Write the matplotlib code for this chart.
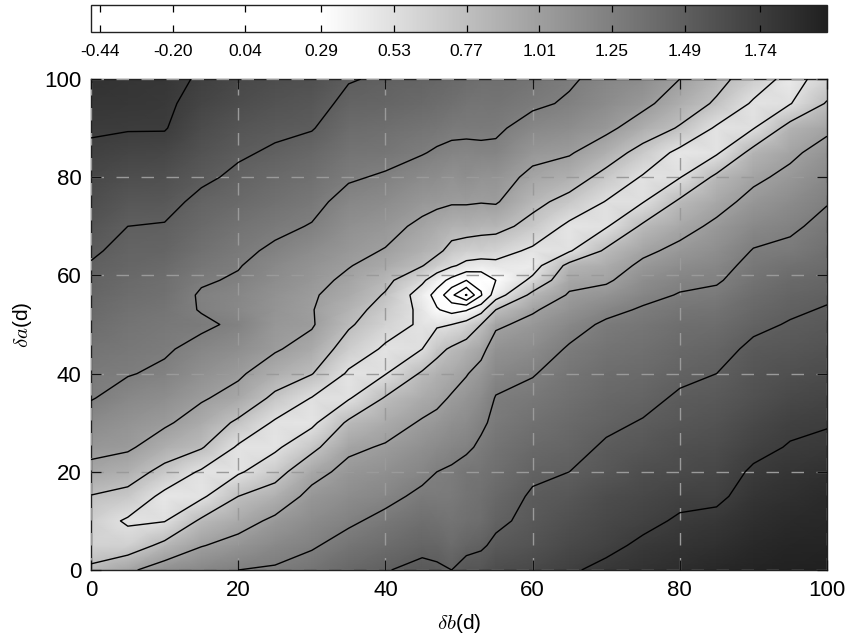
import numpy as np
import matplotlib
matplotlib.use("Agg")
import matplotlib.pyplot as plt
from matplotlib.colors import LinearSegmentedColormap

plt.rcParams['font.family'] = ['Liberation Sans', 'DejaVu Sans']
plt.rcParams['mathtext.fontset'] = 'cm'

x_nodes = [0, 5, 10, 15, 20, 25, 30, 35, 40, 45, 47, 49, 51, 53, 55, 60, 65, 70, 75, 80, 85, 90, 95, 100]
y_nodes = [0, 5, 10, 15, 20, 25, 30, 35, 40, 45, 50, 53, 56, 59, 62, 65, 70, 75, 80, 85, 90, 95, 100]

# estimated value, one list per column (bottom to top)
z00 = [.82, .62, .65, .76, .95, 1.07, 1.16, 1.26, 1.29, 1.33, 1.38, 1.41, 1.43, 1.46, 1.48, 1.51, 1.56, 1.61, 1.66, 1.71, 1.76, 1.79, 1.82]
z05 = [.97, .64, .50, .70, .88, 1.04, 1.10, 1.18, 1.26, 1.30, 1.33, 1.35, 1.38, 1.40, 1.43, 1.45, 1.49, 1.55, 1.61, 1.68, 1.75, 1.78, 1.80]
z10 = [1.12, .83, .52, .47, .70, .90, 1.04, 1.13, 1.22, 1.27, 1.30, 1.32, 1.35, 1.37, 1.40, 1.44, 1.48, 1.54, 1.60, 1.67, 1.75, 1.77, 1.79]
z15 = [1.19, 1.00, .81, .49, .50, .79, .92, 1.03, 1.12, 1.20, 1.28, 1.24, 1.23, 1.27, 1.31, 1.35, 1.40, 1.45, 1.52, 1.58, 1.63, 1.68, 1.72]
z20 = [1.25, 1.08, .93, .77, .50, .50, .73, .94, 1.04, 1.13, 1.22, 1.18, 1.19, 1.23, 1.26, 1.29, 1.34, 1.40, 1.46, 1.51, 1.56, 1.62, 1.66]
z25 = [1.27, 1.17, 1.05, .88, .68, .49, .50, .72, .90, 1.03, 1.07, 1.09, 1.11, 1.14, 1.17, 1.22, 1.29, 1.35, 1.40, 1.47, 1.52, 1.58, 1.62]
z30 = [1.33, 1.23, 1.15, 1.07, .94, .71, .48, .52, .78, .93, 1.03, 1.02, 1.03, 1.07, 1.10, 1.14, 1.24, 1.30, 1.36, 1.42, 1.50, 1.55, 1.60]
z35 = [1.42, 1.32, 1.22, 1.14, 1.07, .97, .81, .51, .50, .66, .80, .86, .93, .97, 1.02, 1.06, 1.12, 1.19, 1.27, 1.33, 1.39, 1.45, 1.50]
z40 = [1.48, 1.38, 1.30, 1.20, 1.12, 1.03, .92, .79, .52, .50, .62, .68, .75, .83, .93, 1.00, 1.07, 1.15, 1.23, 1.31, 1.37, 1.43, 1.47]
z45 = [1.54, 1.44, 1.37, 1.29, 1.20, 1.12, 1.03, .92, .80, .53, .50, .48, .42, .57, .78, .87, .97, 1.07, 1.16, 1.26, 1.33, 1.40, 1.45]
z47 = [1.52, 1.43, 1.35, 1.28, 1.25, 1.16, 1.07, .96, .87, .71, .50, .31, .20, .40, .66, .82, .92, 1.05, 1.14, 1.23, 1.31, 1.38, 1.43]
z49 = [1.49, 1.39, 1.33, 1.29, 1.27, 1.20, 1.12, 1.03, .93, .80, .53, .21, -.15, .22, .56, .70, .87, 1.03, 1.11, 1.21, 1.29, 1.36, 1.41]
z51 = [1.56, 1.44, 1.36, 1.33, 1.32, 1.22, 1.15, 1.08, 1.00, .87, .62, .27, -.46, .04, .47, .65, .87, 1.03, 1.13, 1.20, 1.29, 1.33, 1.39]
z53 = [1.56, 1.47, 1.38, 1.36, 1.33, 1.28, 1.22, 1.15, 1.07, .96, .77, .45, .02, .10, .43, .65, .84, 1.02, 1.10, 1.21, 1.29, 1.32, 1.37]
z55 = [1.62, 1.52, 1.46, 1.41, 1.37, 1.33, 1.29, 1.26, 1.18, 1.10, .98, .77, .42, .29, .47, .62, .84, 1.03, 1.10, 1.21, 1.28, 1.33, 1.37]
z60 = [1.66, 1.58, 1.53, 1.51, 1.46, 1.40, 1.35, 1.30, 1.24, 1.15, 1.06, .99, .83, .58, .43, .49, .70, .83, .96, 1.07, 1.18, 1.28, 1.33]
z65 = [1.72, 1.65, 1.60, 1.55, 1.49, 1.44, 1.40, 1.36, 1.32, 1.27, 1.18, 1.10, 1.03, .95, .84, .51, .48, .70, .88, 1.03, 1.14, 1.23, 1.27]
z70 = [1.78, 1.70, 1.66, 1.62, 1.55, 1.51, 1.46, 1.42, 1.38, 1.33, 1.28, 1.20, 1.09, .98, .91, .81, .51, .52, .70, .88, 1.06, 1.15, 1.20]
z75 = [1.82, 1.77, 1.70, 1.66, 1.61, 1.55, 1.50, 1.45, 1.40, 1.36, 1.31, 1.27, 1.20, 1.13, 1.05, .97, .81, .52, .51, .69, .90, 1.06, 1.14]
z80 = [1.86, 1.81, 1.76, 1.70, 1.64, 1.60, 1.55, 1.51, 1.46, 1.41, 1.37, 1.32, 1.26, 1.21, 1.14, 1.06, .94, .81, .52, .47, .75, .90, 1.01]
z85 = [1.90, 1.84, 1.78, 1.71, 1.67, 1.62, 1.58, 1.53, 1.49, 1.44, 1.38, 1.34, 1.29, 1.23, 1.19, 1.13, 1.05, .94, .82, .50, .50, .74, .84]
z90 = [1.93, 1.89, 1.85, 1.80, 1.76, 1.70, 1.65, 1.59, 1.56, 1.52, 1.46, 1.42, 1.38, 1.34, 1.30, 1.26, 1.17, 1.07, .97, .85, .52, .50, .66]
z95 = [1.95, 1.92, 1.88, 1.84, 1.80, 1.75, 1.71, 1.65, 1.60, 1.55, 1.50, 1.47, 1.44, 1.40, 1.35, 1.29, 1.22, 1.15, 1.06, .97, .86, .52, .45]
z100 = [1.96, 1.93, 1.90, 1.87, 1.83, 1.77, 1.73, 1.68, 1.63, 1.58, 1.53, 1.50, 1.47, 1.43, 1.39, 1.36, 1.30, 1.24, 1.17, 1.09, .97, .79, .62]

columns = [z00, z05, z10, z15, z20, z25, z30, z35, z40, z45, z47, z49, z51, z53, z55,
           z60, z65, z70, z75, z80, z85, z90, z95, z100]

levels = [-0.44, -0.20, 0.04, 0.29, 0.53, 0.77, 1.01, 1.25, 1.49, 1.74]
level_labels = ['-0.44', '-0.20', '0.04', '0.29', '0.53', '0.77', '1.01', '1.25', '1.49', '1.74']
vmin, vmax = -0.47, 1.96
axis_ticks = [0, 20, 40, 60, 80, 100]

Z = np.array(columns).T
X, Y = np.meshgrid(x_nodes, y_nodes)

white_end = (0.29 - vmin) / (vmax - vmin)
cmap = LinearSegmentedColormap.from_list(
    'bar', [(0.0, '#ffffff'), (white_end, '#ffffff'), (1.0, '#202020')], N=512)

W, H = 847, 641
fig = plt.figure(figsize=(W / 100, H / 100), dpi=100)
ax = fig.add_axes([91 / W, 1 - 570 / H, 736 / W, 491 / H])
cax = fig.add_axes([91 / W, 1 - 32 / H, 736 / W, 27 / H])

mesh = ax.pcolormesh(X, Y, Z, cmap=cmap, vmin=vmin, vmax=vmax, shading='gouraud', zorder=1)
ax.grid(True, color='#9a9a9a', lw=1.0, dashes=(9, 9), zorder=2)
ax.set_axisbelow(False)
ax.contour(X, Y, Z, levels=levels, colors='black', linewidths=1.0, linestyles='solid', zorder=3)

ax.set_xlim(0, 100)
ax.set_ylim(0, 100)
ax.set_xticks(axis_ticks)
ax.set_yticks(axis_ticks)
ax.tick_params(direction='in', length=7, width=0.9, top=True, right=True, labelsize=16, pad=7, color='#111111')
for s in ax.spines.values():
    s.set_linewidth(1.0)
    s.set_color('#222222')
ax.set_xlabel(r'$\delta b$(d)', fontsize=15, labelpad=8)
ax.set_ylabel(r'$\delta a$(d)', fontsize=15, labelpad=7)

cb = fig.colorbar(mesh, cax=cax, orientation='horizontal')
cb.set_ticks(levels)
cb.set_ticklabels(level_labels)
cax.tick_params(direction='in', length=5, width=0.9, top=True, bottom=True, labelsize=12.5, pad=9)
cb.outline.set_linewidth(1.0)
cb.outline.set_edgecolor('#222222')

fig.savefig('out.png', dpi=100)
